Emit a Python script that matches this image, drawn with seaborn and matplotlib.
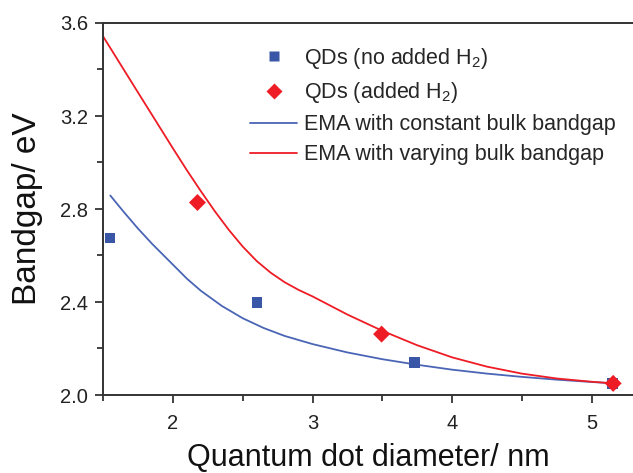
import numpy as np
import pandas as pd
import matplotlib
matplotlib.use("Agg")
import matplotlib.pyplot as plt
import seaborn as sns
from matplotlib.lines import Line2D

# Measured points
qd_noH2_d = [1.55, 2.60, 3.73, 5.15]
qd_noH2_eg = [2.675, 2.398, 2.140, 2.050]
qd_H2_d = [2.175, 3.495, 5.155]
qd_H2_eg = [2.828, 2.262, 2.050]

# EMA model curves
ema_const_d = [1.55, 1.65, 1.75, 1.85, 2.0, 2.1, 2.2, 2.35, 2.5, 2.65, 2.8, 3.0,
               3.25, 3.5, 3.75, 4.0, 4.25, 4.5, 4.75, 5.0, 5.16]
ema_const_eg = [2.858, 2.785, 2.715, 2.65, 2.56, 2.50, 2.448, 2.383, 2.33, 2.288, 2.254, 2.219,
                2.183, 2.154, 2.130, 2.109, 2.092, 2.078, 2.066, 2.056, 2.050]
ema_vary_d = [1.5, 1.75, 2.0, 2.1, 2.2, 2.3, 2.4, 2.5, 2.6, 2.7, 2.8, 2.9, 3.0, 3.25, 3.5,
              3.75, 4.0, 4.25, 4.5, 4.75, 5.0, 5.16]
ema_vary_eg = [3.541, 3.30, 3.06, 2.966, 2.876, 2.790, 2.710, 2.638, 2.576, 2.526, 2.485, 2.452, 2.424,
               2.346, 2.276, 2.214, 2.162, 2.122, 2.092, 2.071, 2.057, 2.050]

labels = ["QDs (no added H$_2$)", "QDs (added H$_2$)",
          "EMA with constant bulk bandgap", "EMA with varying bulk bandgap"]
x_ticks = [2, 3, 4, 5]
y_ticks = [2.0, 2.4, 2.8, 3.2, 3.6]

BLUE = "#3a57a7"
BLUE_L = "#4a65b5"
RED = "#ee1c25"

sns.set_style("ticks")
plt.rcParams['font.family'] = ['Liberation Sans', 'DejaVu Sans']
plt.rcParams['mathtext.fontset'] = 'custom'
plt.rcParams['mathtext.rm'] = 'Liberation Sans'
plt.rcParams['mathtext.it'] = 'Liberation Sans'

fig = plt.figure(figsize=(6.33, 4.73), dpi=100)
ax = fig.add_axes([103.3/633, 1-395/473, 1-103.3/633, (395-23)/473])

df_c = pd.DataFrame({"d": ema_const_d, "eg": ema_const_eg})
df_v = pd.DataFrame({"d": ema_vary_d, "eg": ema_vary_eg})
sns.lineplot(data=df_c, x="d", y="eg", ax=ax, color=BLUE_L, lw=1.3, sort=False, zorder=2)
sns.lineplot(data=df_v, x="d", y="eg", ax=ax, color=RED, lw=1.3, sort=False, zorder=2)

df_a = pd.DataFrame({"d": qd_noH2_d, "eg": qd_noH2_eg})
df_b = pd.DataFrame({"d": qd_H2_d, "eg": qd_H2_eg})
sns.scatterplot(data=df_a, x="d", y="eg", ax=ax, marker="s", s=55, color=BLUE,
                edgecolor="none", zorder=3)
sns.scatterplot(data=df_b, x="d", y="eg", ax=ax, marker="D", s=75, color=RED,
                edgecolor="none", zorder=4)

ax.set_xlim(1.5, 1.5 + (633-103.3)/139.5)
ax.set_ylim(2.0, 3.6)
ax.set_xticks(x_ticks)
ax.set_yticks(y_ticks)
ax.set_yticklabels([f"{v:.1f}" for v in y_ticks])
ax.set_xticks([1.5, 2.5, 3.5, 4.5], minor=True)
ax.set_yticks([2.2, 2.6, 3.0, 3.4], minor=True)
ax.tick_params(which="major", direction="out", length=6, width=1.2, labelsize=14.5,
               color="#222222", labelcolor="#222222")
ax.tick_params(which="minor", direction="out", length=4, width=1.2, color="#222222")
ax.tick_params(axis="x", pad=8)
ax.tick_params(axis="y", pad=5)
ax.spines["right"].set_visible(False)
for s in ["left", "bottom", "top"]:
    ax.spines[s].set_linewidth(1.4)
    ax.spines[s].set_color("#333333")

ax.set_xlabel("Quantum dot diameter/ nm", fontsize=22, labelpad=7, color="#111111")
ax.set_ylabel("Bandgap/ eV", fontsize=24, labelpad=12, color="#111111")

handles = [
    Line2D([], [], ls="none", marker="s", ms=7, color=BLUE, mec="none"),
    Line2D([], [], ls="none", marker="D", ms=8, color=RED, mec="none"),
    Line2D([], [], color=BLUE_L, lw=1.3),
    Line2D([], [], color=RED, lw=1.3),
]
ax.legend(handles, labels, loc="upper left", bbox_to_anchor=(250/633, 1-46/473),
          bbox_transform=fig.transFigure, frameon=False, fontsize=15.5,
          handlelength=2.2, handletextpad=0.3, labelspacing=0.42,
          borderpad=0, borderaxespad=0)

fig.savefig("out.png", dpi=100)
